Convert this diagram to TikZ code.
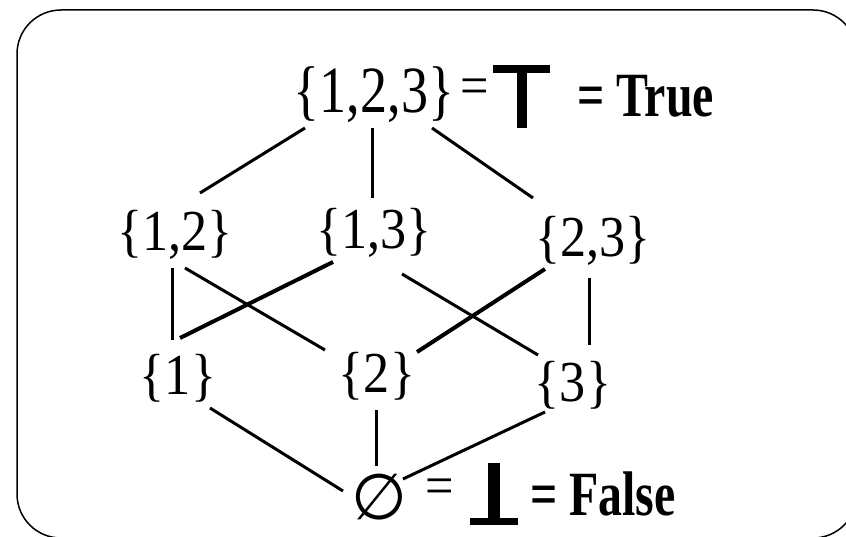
\documentclass[tikz,border=0pt]{standalone}
\usepackage{fontspec}
\newfontfamily\setfont[FakeStretch=0.9]{Liberation Serif}
\newfontfamily\setfonttop[FakeStretch=0.82]{Liberation Serif}
\newfontfamily\boolfont[FakeStretch=0.76]{Liberation Serif}
\newfontfamily\emptyfont{DejaVu Sans}

\begin{document}
\begin{tikzpicture}[x=1pt, y=-1pt,
    set/.style={inner sep=0pt, font=\setfont\fontsize{58}{58}\selectfont},
    topset/.style={inner sep=0pt, font=\setfonttop\fontsize{66}{66}\selectfont},
    eqsign/.style={inner sep=0pt, anchor=base, font=\setfont\fontsize{56}{56}\selectfont},
    emptyset/.style={inner sep=0pt, font=\emptyfont\fontsize{64}{64}\selectfont},
    boolval/.style={inner sep=0pt, anchor=base west, font=\boolfont\bfseries\fontsize{63}{63}\selectfont},
    edge/.style={line width=3pt},
    thickedge/.style={line width=4pt}]
  \useasboundingbox (0,0) rectangle (846,537);
  \clip (0,0) rectangle (846,537);
  \draw[line width=1.5pt, rounded corners=44pt] (17,10) rectangle (857,538);

  \node[topset] (n123) at (374,95) {\{1,2,3\}};
  \node[set] (n12) at (175,235) {\{1,2\}};
  \node[set] (n13) at (374,233) {\{1,3\}};
  \node[set] (n23) at (593,241) {\{2,3\}};
  \node[set] (n1) at (178,378) {\{1\}};
  \node[set] (n2) at (377,376) {\{2\}};
  \node[set] (n3) at (573,385) {\{3\}};
  \node[emptyset] (n0) at (379,497) {∅};

  \node[eqsign] (eqtop) at (475,105) {=};
  \node[eqsign] (eqbot) at (440,504) {=};
  \node[boolval] (true) at (577,117) {= True};
  \node[boolval] (false) at (530,515) {= False};

  % top and bottom
  \fill (493,65) rectangle (550,73);
  \fill (517,65) rectangle (527,128);
  \fill (488,463) rectangle (500,525);
  \fill (470,518) rectangle (518,525);

  \draw[edge] ([shift={(-69,33)}]n123.center) -- ([shift={(25,-42)}]n12.center);
  \draw[edge] ([shift={(-2,33)}]n123.center) -- ([shift={(-2,-35)}]n13.center);
  \draw[edge] ([shift={(58,33)}]n123.center) -- ([shift={(-60,-43)}]n23.center);
  \draw[edge] ([shift={(-3,33)}]n12.center) -- ([shift={(-6,-38)}]n1.center);
  \draw[edge] ([shift={(10,33)}]n12.center) -- ([shift={(-52,-26)}]n2.center);
  \draw[thickedge] ([shift={(-41,29)}]n13.center) -- ([shift={(2,-40)}]n1.center);
  \draw[edge] ([shift={(28,41)}]n13.center) -- ([shift={(-35,-30)}]n3.center);
  \draw[thickedge] ([shift={(-48,28)}]n23.center) -- ([shift={(40,-24)}]n2.center);
  \draw[edge] ([shift={(-4,37)}]n23.center) -- ([shift={(16,-40)}]n3.center);
  \draw[edge] ([shift={(32,30)}]n1.center) -- ([shift={(-36,-6)}]n0.center);
  \draw[edge] ([shift={(-1,34)}]n2.center) -- ([shift={(-3,-31)}]n0.center);
  \draw[edge] ([shift={(-28,27)}]n3.center) -- ([shift={(24,-18)}]n0.center);
\end{tikzpicture}
\end{document}
